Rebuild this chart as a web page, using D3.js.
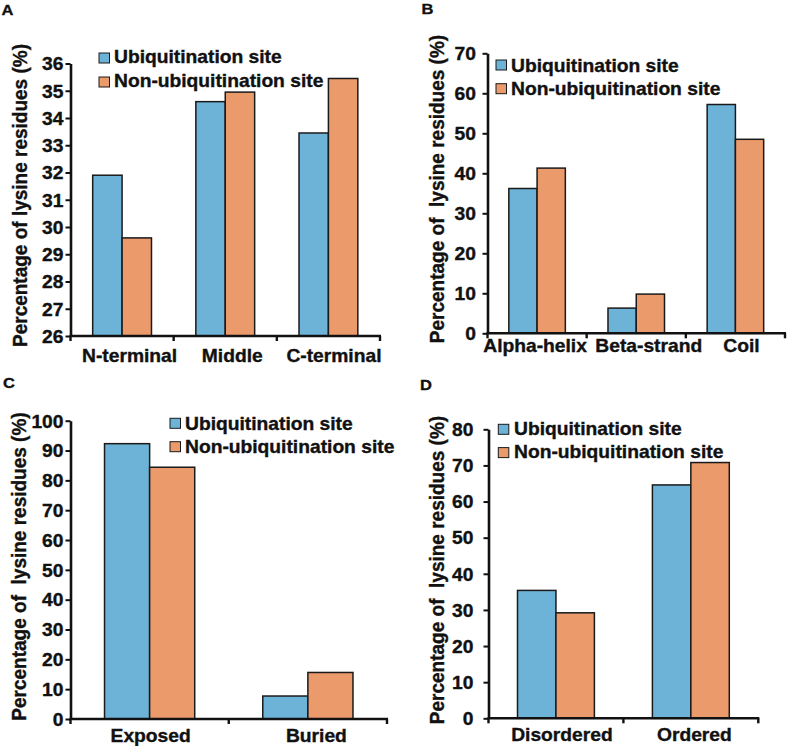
<!DOCTYPE html>
<html><head><meta charset="utf-8">
<script src="https://cdn.jsdelivr.net/npm/d3@7"></script>
<style>
body{margin:0;background:#fff}
text{font-family:"Liberation Sans",Arial,Helvetica,sans-serif;font-weight:bold;fill:#111;stroke:#111;stroke-width:0.35px}
</style>
</head><body>
<svg id="chart" width="787" height="746"></svg>
<script>
// ---------- data ----------
const seriesNames = ["Ubiquitination site", "Non-ubiquitination site"];

const catsA = ["N-terminal", "Middle", "C-terminal"];
const ubA   = [31.9, 34.6, 33.45];
const nonA  = [29.6, 34.95, 35.45];
const ticksA = [26, 27, 28, 29, 30, 31, 32, 33, 34, 35, 36];

const catsB = ["Alpha-helix", "Beta-strand", "Coil"];
const ubB   = [36.2, 6.3, 57.2];
const nonB  = [41.3, 9.8, 48.5];
const ticksB = [0, 10, 20, 30, 40, 50, 60, 70];

const catsC = ["Exposed", "Buried"];
const ubC   = [92.3, 7.7];
const nonC  = [84.4, 15.6];
const ticksC = [0, 10, 20, 30, 40, 50, 60, 70, 80, 90, 100];

const catsD = ["Disordered", "Ordered"];
const ubD   = [35.4, 64.6];
const nonD  = [29.2, 70.8];
const ticksD = [0, 10, 20, 30, 40, 50, 60, 70, 80];

const yTitleA = "Percentage of lysine residues (%)";
const yTitleBCD = "Percentage of  lysine residues (%)";

// ---------- style ----------
const colors = ["#6db3d7", "#eb9a6b"];
const S = 1.1;           // horizontal stretch of the text in the reference
const FS = 17.5;         // main font size
const svg = d3.select("#chart");

function stext(parent, x, y, str, size, anchor) {
  return parent.append("g").attr("transform", `translate(${x},${y})`)
    .append("text").attr("transform", `scale(${S},1)`)
    .attr("text-anchor", anchor || "start")
    .style("font-size", size + "px").style("white-space", "pre")
    .text(str);
}

function panel(p) {
  const g = svg.append("g");
  const y = d3.scaleLinear()
    .domain([p.ticks[0], p.ticks[p.ticks.length - 1]])
    .range([p.yBot, p.yTop]);
  const x = d3.scaleBand().domain(p.cats).range([p.x0, p.x1])
    .paddingInner(0.43).paddingOuter(0.215);
  const xs = d3.scaleBand().domain([0, 1]).range([0, x.bandwidth()]);
  const vals = [p.ub, p.non];
  const data = p.cats.flatMap((c, i) => [0, 1].map(s => ({c, s, v: vals[s][i]})));

  g.selectAll("rect.bar").data(data).join("rect").attr("class", "bar")
    .attr("x", d => x(d.c) + xs(d.s))
    .attr("width", xs.bandwidth())
    .attr("y", d => y(d.v))
    .attr("height", d => y(p.ticks[0]) - y(d.v))
    .attr("fill", d => colors[d.s])
    .attr("stroke", "#1a1a1a").attr("stroke-width", 1.5);

  // y axis
  const ya = g.append("g").attr("transform", `translate(${p.x0},0)`)
    .call(d3.axisLeft(y).tickValues(p.ticks).tickSize(5).tickSizeOuter(0).tickFormat(d3.format("d")));
  ya.select(".domain").attr("stroke", "#111").attr("stroke-width", 2.6);
  ya.selectAll(".tick line").attr("stroke", "#111").attr("stroke-width", 2);
  ya.selectAll(".tick text")
    .attr("x", -p.gap / S).attr("dy", "0.36em")
    .attr("transform", `scale(${S},1)`)
    .style("font-size", FS + "px");

  // x axis: line + ticks at category boundaries
  const bounds = d3.range(p.cats.length + 1).map(i => p.x0 + i * x.step());
  g.append("line").attr("x1", p.x0 - 1).attr("x2", p.x1 + 1)
    .attr("y1", p.yBot).attr("y2", p.yBot)
    .attr("stroke", "#111").attr("stroke-width", 2.6);
  g.selectAll("line.xt").data(bounds).join("line").attr("class", "xt")
    .attr("x1", d => d).attr("x2", d => d)
    .attr("y1", p.yBot).attr("y2", p.yBot + 5)
    .attr("stroke", "#111").attr("stroke-width", 2.4);

  const xa = g.append("g").attr("transform", `translate(0,${p.yBot})`)
    .call(d3.axisBottom(x).tickSize(0).tickPadding(0));
  xa.select(".domain").remove();
  xa.selectAll(".tick text")
    .attr("y", p.labelBase - p.yBot).attr("dy", 0)
    .attr("dx", (d, i) => p.dx[i] / S)
    .attr("transform", `scale(${S},1)`)
    .style("font-size", FS + "px");

  // y title
  g.append("text")
    .attr("transform", `translate(${p.ytX},${p.ytY}) scale(${S},1) rotate(-90)`)
    .attr("text-anchor", "middle")
    .style("font-size", "19px").style("white-space", "pre")
    .text(p.yTitle);

  // legend
  seriesNames.forEach((name, i) => {
    g.append("rect")
      .attr("x", p.lgX).attr("y", p.lgY + i * p.lgSp)
      .attr("width", 10.5).attr("height", 10)
      .attr("fill", colors[i]).attr("stroke", "#1a1a1a").attr("stroke-width", 1);
    stext(g, p.lgTx, p.lgBase + i * p.lgSp, name, FS, "start");
  });

  // panel letter
  stext(g, p.letX, p.letY, p.letter, 15, "start");
}

panel({letter: "A", letX: 1.5, letY: 15,
  cats: catsA, ub: ubA, non: nonA, ticks: ticksA,
  x0: 70.5, x1: 380, yTop: 63.5, yBot: 336, gap: 7, labelBase: 362, dx: [7.5, 7, 5.5],
  ytX: 27, ytY: 195.5, yTitle: yTitleA,
  lgX: 99, lgY: 53, lgTx: 114, lgBase: 63, lgSp: 24});

panel({letter: "B", letX: 421.5, letY: 14,
  cats: catsB, ub: ubB, non: nonB, ticks: ticksB,
  x0: 487.5, x1: 785, yTop: 53.3, yBot: 333.3, gap: 11.5, labelBase: 352, dx: [-2, 12.5, 6],
  ytX: 443.5, ytY: 189, yTitle: yTitleBCD,
  lgX: 496, lgY: 60, lgTx: 511, lgBase: 71.5, lgSp: 23.7});

panel({letter: "C", letX: 3, letY: 388,
  cats: catsC, ub: ubC, non: nonC, ticks: ticksC,
  x0: 70.5, x1: 387, yTop: 420.7, yBot: 719, gap: 7, labelBase: 742, dx: [1, 8.5],
  ytX: 25.5, ytY: 566.5, yTitle: yTitleBCD,
  lgX: 170, lgY: 418.3, lgTx: 185, lgBase: 429.5, lgSp: 23.4});

panel({letter: "D", letX: 420, letY: 390,
  cats: catsD, ub: ubD, non: nonD, ticks: ticksD,
  x0: 488.5, x1: 758.3, yTop: 429.3, yBot: 718.3, gap: 15, labelBase: 741, dx: [6, 3.5],
  ytX: 444, ytY: 570, yTitle: yTitleBCD,
  lgX: 498.3, lgY: 424.3, lgTx: 514, lgBase: 435, lgSp: 23.3});
</script>
</body></html>
